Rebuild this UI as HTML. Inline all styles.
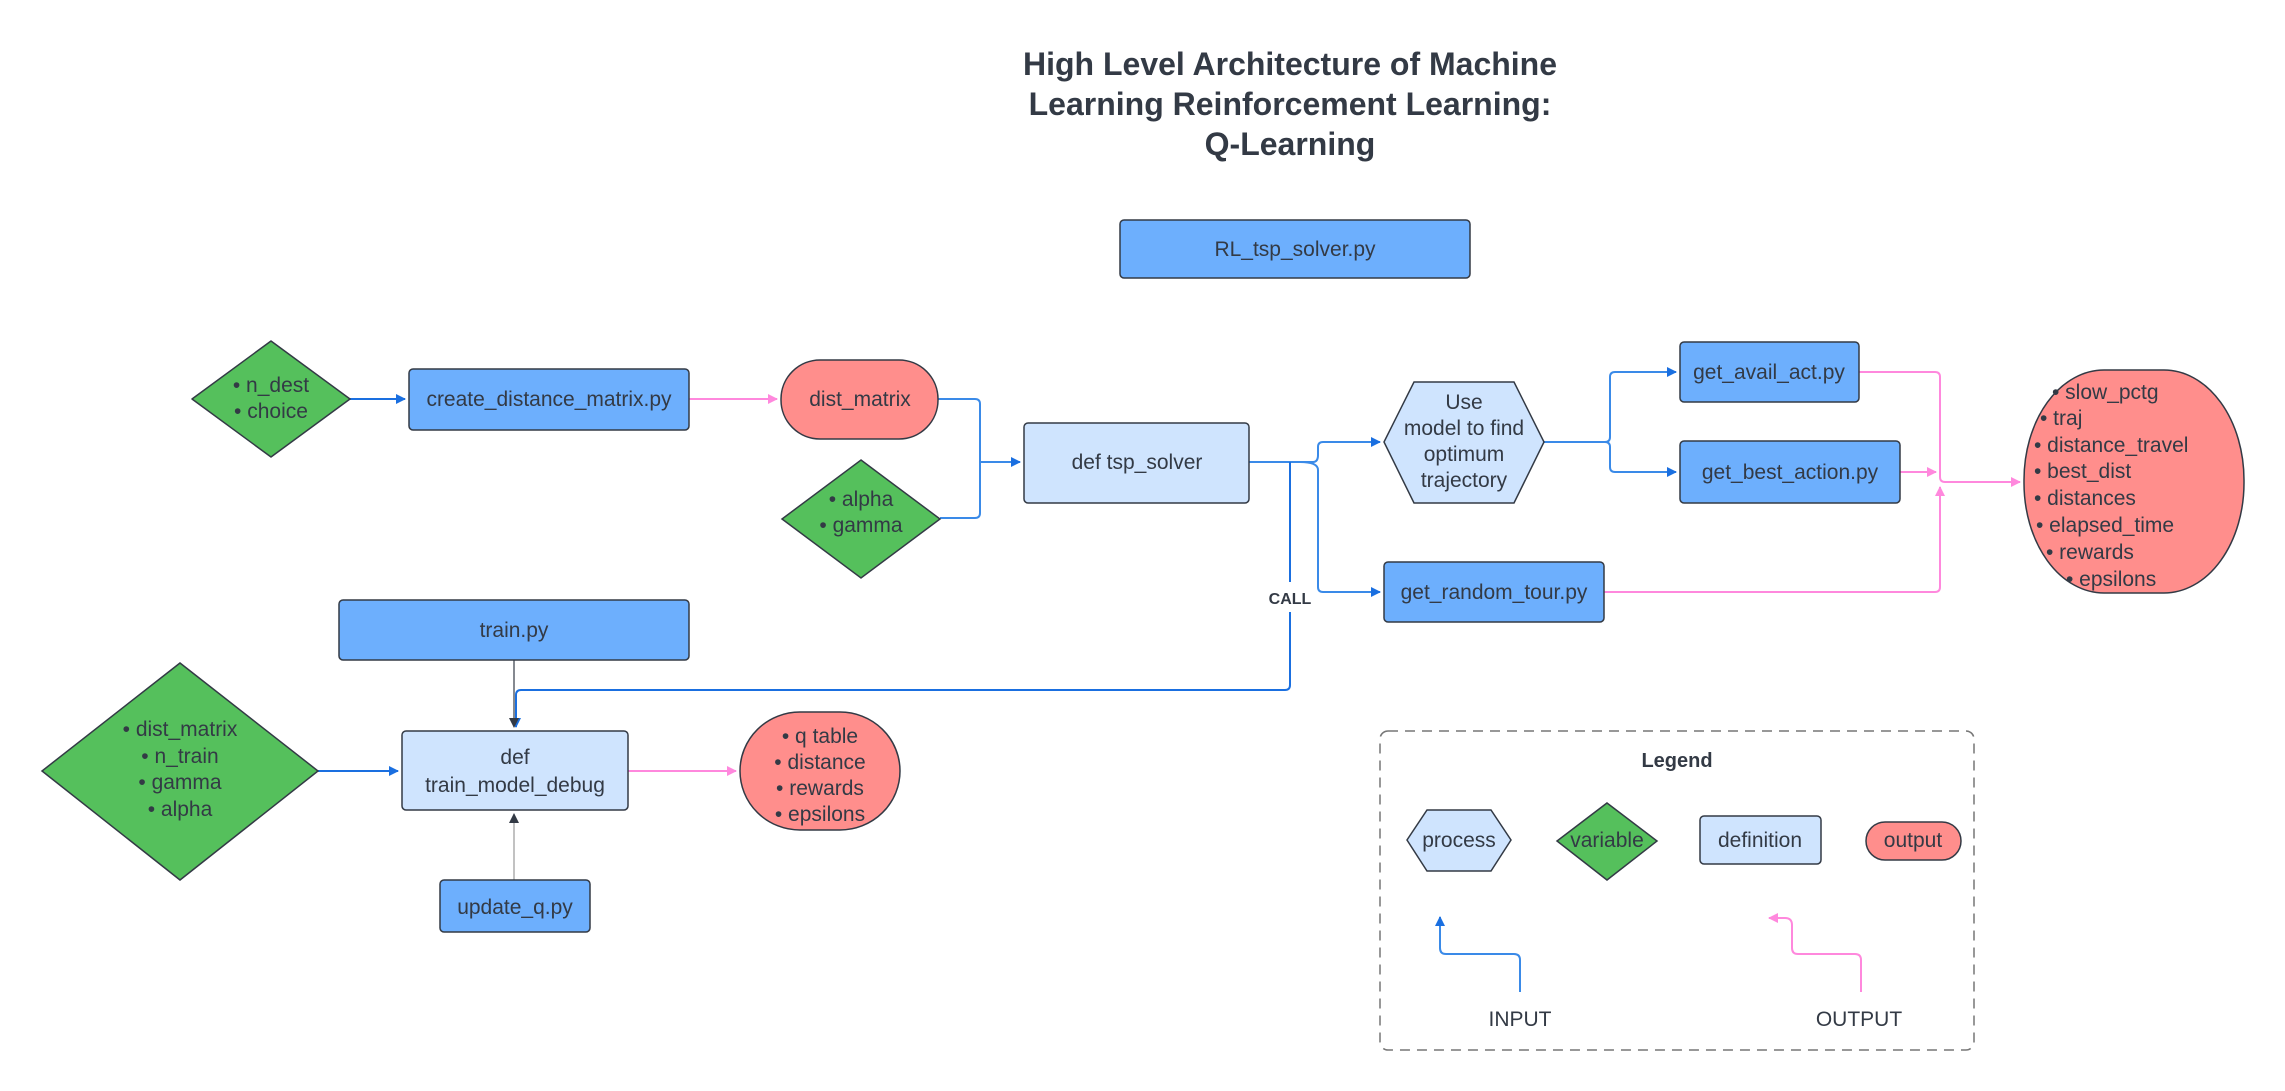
<!DOCTYPE html>
<html><head><meta charset="utf-8"><style>
html,body{margin:0;padding:0;background:#fff;}
svg{display:block;}
text{font-family:"Liberation Sans",sans-serif;fill:#333a45;}
</style></head><body>
<svg width="2285" height="1091" viewBox="0 0 2285 1091" xmlns="http://www.w3.org/2000/svg">
<defs>
<marker id="ab" markerWidth="10" markerHeight="10" refX="9" refY="5" orient="auto" markerUnits="userSpaceOnUse"><path d="M0,0 L10,5 L0,10 z" fill="#1a6fe0"/></marker>
<marker id="ap" markerWidth="10" markerHeight="10" refX="9" refY="5" orient="auto" markerUnits="userSpaceOnUse"><path d="M0,0 L10,5 L0,10 z" fill="#ff88dd"/></marker>
<marker id="ad" markerWidth="10" markerHeight="12" refX="9" refY="5" orient="auto" markerUnits="userSpaceOnUse"><path d="M0,0 L10,5 L0,10 z" fill="#333a45"/></marker>
</defs>
<g font-size="32" font-weight="bold" text-anchor="middle">
<text x="1290" y="75">High Level Architecture of Machine</text>
<text x="1290" y="115">Learning Reinforcement Learning:</text>
<text x="1290" y="155">Q-Learning</text>
</g>
<!-- connectors -->
<g fill="none" stroke-width="2">
<path d="M350,399 H405" stroke="#1a6fe0" marker-end="url(#ab)"/>
<path d="M689,399 H777" stroke="#ff88dd" marker-end="url(#ap)"/>
<path d="M938,399 H975 Q980,399 980,404 V462 H1020" stroke="#3a8ae8" marker-end="url(#ab)"/>
<path d="M940,518 H975 Q980,518 980,513 V462" stroke="#3a8ae8"/>
<path d="M1249,462 H1313 Q1318,462 1318,455 V447 Q1318,442 1323,442 H1380" stroke="#3a8ae8" marker-end="url(#ab)"/>
<path d="M1300,462 Q1318,462 1318,470 V587 Q1318,592 1323,592 H1380" stroke="#3a8ae8" marker-end="url(#ab)"/>
<path d="M1290,462 V582 M1290,612 V685 Q1290,690 1285,690 H521 Q516,690 516,695 V727" stroke="#1a6fe0" marker-end="url(#ab)"/>
<path d="M514,660 V727" stroke="#333a45" stroke-width="1.2" marker-end="url(#ad)"/>
<path d="M1544,442 H1605 Q1610,442 1610,437 V377 Q1610,372 1615,372 H1676" stroke="#3a8ae8" marker-end="url(#ab)"/>
<path d="M1605,442 Q1610,442 1610,447 V467 Q1610,472 1615,472 H1676" stroke="#3a8ae8" marker-end="url(#ab)"/>
<path d="M1859,372 H1935 Q1940,372 1940,377 V477 Q1940,482 1945,482 H2020" stroke="#ff88dd" marker-end="url(#ap)"/>
<path d="M1900,472 H1936" stroke="#ff88dd" marker-end="url(#ap)"/>
<path d="M1604,592 H1935 Q1940,592 1940,587 V487" stroke="#ff88dd" marker-end="url(#ap)"/>
<path d="M318,771 H398" stroke="#1a6fe0" marker-end="url(#ab)"/>
<path d="M628,771 H736" stroke="#ff88dd" marker-end="url(#ap)"/>
<path d="M514,880 V814" stroke="#999" stroke-width="1.2" marker-end="url(#ad)"/>
<path d="M1520,992 V960 Q1520,954 1514,954 H1446 Q1440,954 1440,948 V917" stroke="#3a8ae8" marker-end="url(#ab)"/>
<path d="M1861,992 V960 Q1861,954 1855,954 H1798 Q1792,954 1792,948 V925 Q1792,918 1785,918 H1769" stroke="#ff88dd" marker-end="url(#ap)"/>
</g>
<text x="1290" y="604" font-size="16" font-weight="bold" text-anchor="middle">CALL</text>
<!-- shapes -->
<g stroke="#333a45" stroke-width="1.5">
<rect x="1120" y="220" width="350" height="58" rx="4" fill="#6daffd"/>
<path d="M271,341 L350,399 L271,457 L192,399 z" fill="#55c05c" stroke-linejoin="round"/>
<rect x="409" y="369" width="280" height="61" rx="4" fill="#6daffd"/>
<rect x="781" y="360" width="157" height="79" rx="39" fill="#ff8e8c"/>
<path d="M861,460 L940,519 L861,578 L782,519 z" fill="#55c05c"/>
<rect x="1024" y="423" width="225" height="80" rx="4" fill="#cfe4fe"/>
<path d="M1414,382 H1514 L1544,442 L1514,503 H1414 L1384,442 z" fill="#cfe4fe"/>
<rect x="1680" y="342" width="179" height="60" rx="4" fill="#6daffd"/>
<rect x="1680" y="441" width="220" height="62" rx="4" fill="#6daffd"/>
<rect x="1384" y="562" width="220" height="60" rx="4" fill="#6daffd"/>
<rect x="2024" y="370" width="220" height="223" rx="80" ry="110" fill="#ff8e8c"/>
<rect x="339" y="600" width="350" height="60" rx="4" fill="#6daffd"/>
<path d="M180,663 L318,771 L180,880 L42,771 z" fill="#55c05c"/>
<rect x="402" y="731" width="226" height="79" rx="4" fill="#cfe4fe"/>
<rect x="740" y="712" width="160" height="118" rx="60" ry="59" fill="#ff8e8c"/>
<rect x="440" y="880" width="150" height="52" rx="4" fill="#6daffd"/>
<rect x="1380" y="731" width="594" height="319" rx="8" fill="none" stroke="#777" stroke-dasharray="10,7"/>
<path d="M1427,810 H1491 L1511,840 L1491,871 H1427 L1407,840 z" fill="#cfe4fe"/>
<path d="M1607,803 L1657,841 L1607,880 L1557,841 z" fill="#55c05c"/>
<rect x="1700" y="816" width="121" height="48" rx="4" fill="#cfe4fe"/>
<rect x="1866" y="822" width="95" height="38" rx="19" fill="#ff8e8c"/>
</g>
<g font-size="21" text-anchor="middle">
<text x="1295" y="256">RL_tsp_solver.py</text>
<text x="271" y="392">• n_dest</text><text x="271" y="418">• choice</text>
<text x="549" y="406">create_distance_matrix.py</text>
<text x="860" y="406">dist_matrix</text>
<text x="861" y="506">• alpha</text><text x="861" y="532">• gamma</text>
<text x="1137" y="469">def tsp_solver</text>
<text x="1464" y="409">Use</text><text x="1464" y="435">model to find</text><text x="1464" y="461">optimum</text><text x="1464" y="487">trajectory</text>
<text x="1769" y="379">get_avail_act.py</text>
<text x="1790" y="479">get_best_action.py</text>
<text x="1494" y="599">get_random_tour.py</text>
<g text-anchor="start">
<text x="2052" y="399">• slow_pctg</text>
<text x="2040" y="425">• traj</text>
<text x="2034" y="452">• distance_travel</text>
<text x="2034" y="478">• best_dist</text>
<text x="2034" y="505">• distances</text>
<text x="2036" y="532">• elapsed_time</text>
<text x="2046" y="559">• rewards</text>
<text x="2066" y="586">• epsilons</text>
</g>
<text x="514" y="637">train.py</text>
<text x="180" y="736">• dist_matrix</text><text x="180" y="763">• n_train</text><text x="180" y="789">• gamma</text><text x="180" y="816">• alpha</text>
<text x="515" y="764">def</text><text x="515" y="792">train_model_debug</text>
<text x="820" y="743">• q table</text><text x="820" y="769">• distance</text><text x="820" y="795">• rewards</text><text x="820" y="821">• epsilons</text>
<text x="515" y="914">update_q.py</text>
<text x="1677" y="767" font-weight="bold" font-size="20">Legend</text>
<text x="1459" y="847">process</text>
<text x="1607" y="847">variable</text>
<text x="1760" y="847">definition</text>
<text x="1913" y="847">output</text>
<text x="1520" y="1026">INPUT</text>
<text x="1859" y="1026">OUTPUT</text>
</g>
</svg>
</body></html>
